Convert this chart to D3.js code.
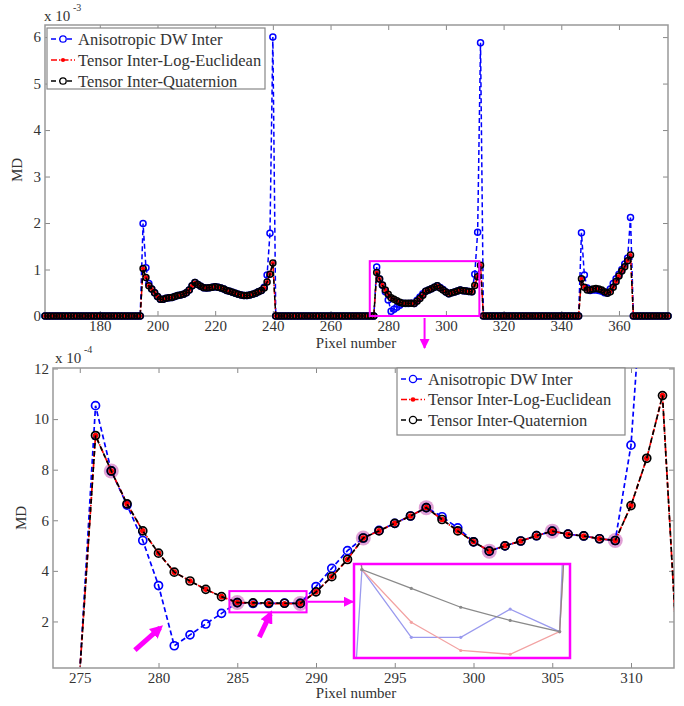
<!DOCTYPE html>
<html>
<head>
<meta charset="utf-8">
<script src="https://cdn.jsdelivr.net/npm/d3@7"></script>
<style>
body { margin: 0; background: #fff; }
</style>
</head>
<body>
<script>
// pixels covered by the overview plot
var firstPixel = 161, lastPixel = 377;

// non-zero stretches (first pixel of each), MD in units of 1e-4
var segStart = [195, 276, 347];

var quatA = [10.2, 8.3, 6.5, 5.8, 5.0, 4.2, 3.6, 3.6, 3.8, 3.9, 4.0, 4.2, 4.4, 4.5, 4.7, 5.0,
  5.6, 6.5, 7.2, 6.8, 6.4, 6.1, 6.0, 6.1, 6.2, 6.3, 6.2, 6.0, 5.8, 5.5, 5.3, 5.1, 4.9, 4.7,
  4.5, 4.4, 4.4, 4.5, 4.7, 4.9, 5.2, 5.5, 6.0, 7.3, 9.0, 11.4];
var quatB = [9.35, 7.95, 6.65, 5.58, 4.70, 3.95, 3.60, 3.27, 2.98, 2.747, 2.737, 2.727, 2.720,
  2.714, 3.17, 3.77, 4.45, 5.30, 5.58, 5.88, 6.17, 6.50, 6.03, 5.58, 5.15, 4.78, 4.99, 5.18,
  5.39, 5.57, 5.45, 5.38, 5.27, 5.20, 6.58, 8.45, 10.93];
var quatC = [8.0, 6.2, 5.6, 5.6, 5.8, 5.9, 5.8, 5.6, 5.2, 4.9, 5.2, 6.2, 7.4, 8.6, 9.7, 10.6,
  11.9, 13.1];

var logB = [9.35, 7.95, 6.65, 5.58, 4.70, 3.95, 3.60, 3.27, 2.98, 2.747, 2.719, 2.704, 2.702,
  2.714, 3.17, 3.77, 4.45, 5.30, 5.58, 5.88, 6.17, 6.50, 6.03, 5.58, 5.15, 4.78, 4.99, 5.18,
  5.39, 5.57, 5.45, 5.38, 5.27, 5.20, 6.58, 8.45, 10.93];

var anisoA = [19.9, 10.4, 7.0, 5.8, 5.0, 4.2, 3.6, 3.6, 3.8, 3.9, 4.0, 4.2, 4.4, 4.5, 4.7, 5.0,
  5.6, 6.5, 7.2, 6.8, 6.4, 6.1, 6.0, 6.1, 6.2, 6.3, 6.2, 6.0, 5.8, 5.5, 5.3, 5.1, 4.9, 4.7,
  4.5, 4.4, 4.4, 4.5, 4.7, 4.9, 5.2, 5.5, 6.2, 8.8, 17.8, 60.0];
var anisoB = [10.53, 7.95, 6.60, 5.20, 3.42, 1.04, 1.47, 1.90, 2.32, 2.747, 2.711, 2.711, 2.726,
  2.714, 3.38, 4.10, 4.80, 5.30, 5.60, 5.88, 6.17, 6.50, 6.14, 5.70, 5.15, 4.78, 4.99, 5.18,
  5.39, 5.57, 5.45, 5.38, 5.27, 5.20, 8.97, 18.0, 58.8];
var anisoC = [17.9, 8.8, 6.0, 5.5, 5.6, 5.6, 5.5, 5.3, 5.0, 5.0, 5.8, 7.0, 8.0, 9.0, 10.0, 11.2,
  12.5, 21.2];

var topXTicks = [180, 200, 220, 240, 260, 280, 300, 320, 340, 360];
var topYTicks = [0, 1, 2, 3, 4, 5, 6];
var zoomXTicks = [275, 280, 285, 290, 295, 300, 305, 310];
var zoomYTicks = [2, 4, 6, 8, 10, 12];

// points ringed in the zoomed plot
var highlightPixels = [277, 285, 289, 293, 297, 301, 305, 309];

var legendNames = ["Anisotropic DW Inter", "Tensor  Inter-Log-Euclidean", "Tensor  Inter-Quaternion"];

var serif = '"Liberation Serif", "Times New Roman", "DejaVu Serif", serif';

function fullSeries(segs) {
  var out = [];
  for (var p = firstPixel; p <= lastPixel; p++) out.push({px: p, v: 0});
  segs.forEach(function(seg, k) {
    seg.forEach(function(v, i) { out[segStart[k] + i - firstPixel].v = v; });
  });
  return out;
}

var aniso = fullSeries([anisoA, anisoB, anisoC]);
var logE = fullSeries([quatA, logB, quatC]);
var quat = fullSeries([quatA, quatB, quatC]);

var series = [
  {name: legendNames[0], data: aniso, color: "#0000ff", dash: "5,3", marker: "ring"},
  {name: legendNames[1], data: logE, color: "#ff0000", dash: "6,2,1.5,2", marker: "dot"},
  {name: legendNames[2], data: quat, color: "#000000", dash: "5,3", marker: "ring"}
];

var magenta = "#ff00ff";

var svg = d3.select("body").append("svg").attr("width", 684).attr("height", 706)
  .style("font-family", serif);

function label(g, x, y, size, str) {
  return g.append("text").attr("x", x).attr("y", y).style("font-family", serif)
    .style("font-size", size + "px").attr("fill", "#333").text(str);
}

var defs = svg.append("defs");
defs.append("marker").attr("id", "headSmall").attr("viewBox", "0 0 10 10")
  .attr("refX", 9).attr("refY", 5).attr("markerWidth", 5).attr("markerHeight", 5)
  .attr("markerUnits", "strokeWidth").attr("orient", "auto")
  .append("path").attr("d", "M0,0L10,5L0,10Z").attr("fill", magenta);
defs.append("marker").attr("id", "headBig").attr("viewBox", "0 0 10 10")
  .attr("refX", 7).attr("refY", 5).attr("markerWidth", 2.6).attr("markerHeight", 2.6)
  .attr("markerUnits", "strokeWidth").attr("orient", "auto")
  .append("path").attr("d", "M0,0L10,5L0,10Z").attr("fill", magenta);

function frameAxes(g, x, y, xt, yt) {
  var r = x.range(), b = y.range();
  g.append("g").attr("transform", "translate(0," + b[0] + ")")
    .call(d3.axisBottom(x).tickValues(xt).tickSize(-5).tickPadding(4).tickFormat(d3.format("d")));
  g.append("g").attr("transform", "translate(0," + b[1] + ")")
    .call(d3.axisTop(x).tickValues(xt).tickSize(-5).tickFormat(""));
  g.append("g").attr("transform", "translate(" + r[0] + ",0)")
    .call(d3.axisLeft(y).tickValues(yt).tickSize(-5).tickPadding(4).tickFormat(d3.format("d")));
  g.append("g").attr("transform", "translate(" + r[1] + ",0)")
    .call(d3.axisRight(y).tickValues(yt).tickSize(-5).tickFormat(""));
  g.selectAll(".domain").remove();
  g.selectAll(".tick line").attr("stroke", "#888");
  g.selectAll(".tick text").style("font-size", "15px").style("font-family", serif).attr("fill", "#333");
  g.append("rect").attr("x", r[0]).attr("y", b[1]).attr("width", r[1] - r[0])
    .attr("height", b[0] - b[1]).attr("fill", "none").attr("stroke", "#999").attr("stroke-width", 1.5);
}

function drawSeries(g, x, y, s, scale, rad, lw) {
  var line = d3.line().x(function(d) { return x(d.px); }).y(function(d) { return y(d.v * scale); });
  g.append("path").datum(s.data).attr("d", line).attr("fill", "none")
    .attr("stroke", s.color).attr("stroke-width", lw).attr("stroke-dasharray", s.dash);
  var pts = g.selectAll(null).data(s.data).enter().append("circle")
    .attr("cx", function(d) { return x(d.px); }).attr("cy", function(d) { return y(d.v * scale); });
  if (s.marker === "dot") pts.attr("r", rad * 0.7).attr("fill", s.color);
  else pts.attr("r", rad).attr("fill", "none").attr("stroke", s.color).attr("stroke-width", lw);
}

function legend(g, x0, y0, w, h, rowGap, rad) {
  g.append("rect").attr("x", x0).attr("y", y0).attr("width", w).attr("height", h)
    .attr("fill", "#fff").attr("stroke", "#888").attr("stroke-width", 1.2);
  series.forEach(function(s, i) {
    var cy = y0 + 11 + i * rowGap;
    g.append("line").attr("x1", x0 + 4).attr("x2", x0 + 28).attr("y1", cy).attr("y2", cy)
      .attr("stroke", s.color).attr("stroke-width", 1.4).attr("stroke-dasharray", s.dash);
    var m = g.append("circle").attr("cx", x0 + 16).attr("cy", cy);
    if (s.marker === "dot") m.attr("r", rad * 0.65).attr("fill", s.color);
    else m.attr("r", rad).attr("fill", "#fff").attr("stroke", s.color).attr("stroke-width", 1.3);
    label(g, x0 + 31, cy, 16.5, s.name).attr("dy", "0.35em");
  });
}

// ---------- overview plot ----------
var x1 = d3.scaleLinear().domain([firstPixel, lastPixel]).range([45, 668]);
var y1 = d3.scaleLinear().domain([0, 6.26]).range([316, 25]);
var g1 = svg.append("g");
frameAxes(g1, x1, y1, topXTicks, topYTicks);
series.forEach(function(s) { drawSeries(g1, x1, y1, s, 0.1, 3, 1.5); });

// box marking the zoomed region
var zoomBox = {x0: 273.6, x1: 311.6, y0: 0, y1: 1.18};
g1.append("rect").attr("x", x1(zoomBox.x0)).attr("y", y1(zoomBox.y1))
  .attr("width", x1(zoomBox.x1) - x1(zoomBox.x0)).attr("height", y1(zoomBox.y0) - y1(zoomBox.y1))
  .attr("fill", "none").attr("stroke", magenta).attr("stroke-width", 2);
var midX = x1((zoomBox.x0 + zoomBox.x1) / 2);
g1.append("line").attr("x1", midX).attr("x2", midX).attr("y1", 318).attr("y2", 348)
  .attr("stroke", magenta).attr("stroke-width", 2).attr("marker-end", "url(#headSmall)");

legend(g1, 47, 28, 218, 61, 21, 3.2);

label(g1, 44, 21, 15, "x 10");
label(g1, 73, 11, 10, "-3");
label(g1, 0, 0, 15, "MD").attr("transform", "translate(22,170) rotate(-90)").attr("text-anchor", "middle");
label(g1, 356, 348, 15, "Pixel number").attr("text-anchor", "middle");

// ---------- zoomed plot ----------
var x2 = d3.scaleLinear().domain([273.3, 312.73]).range([53, 674]);
var y2 = d3.scaleLinear().domain([0.16, 12.02]).range([668, 368]);
var g2 = svg.append("g");
frameAxes(g2, x2, y2, zoomXTicks, zoomYTicks);

defs.append("clipPath").attr("id", "clipZoom").append("rect")
  .attr("x", 53).attr("y", 368).attr("width", 621).attr("height", 298.5);
var plot2 = g2.append("g").attr("clip-path", "url(#clipZoom)");

plot2.selectAll(null).data(quat.filter(function(d) { return highlightPixels.indexOf(d.px) >= 0; }))
  .enter().append("circle")
  .attr("cx", function(d) { return x2(d.px); }).attr("cy", function(d) { return y2(d.v); })
  .attr("r", 7.5).attr("fill", "#d98acb").attr("opacity", 0.8);

series.forEach(function(s) { drawSeries(plot2, x2, y2, s, 1, 4, 1.7); });

// box around the flat stretch and its enlarged view
var flatBox = {x0: 284.5, x1: 289.4, y0: 2.36, y1: 3.2};
g2.append("rect").attr("x", x2(flatBox.x0)).attr("y", y2(flatBox.y1))
  .attr("width", x2(flatBox.x1) - x2(flatBox.x0)).attr("height", y2(flatBox.y0) - y2(flatBox.y1))
  .attr("fill", "none").attr("stroke", magenta).attr("stroke-width", 2);

var insetBox = {left: 354, top: 564, right: 570, bottom: 658};
var flatMidY = y2((flatBox.y0 + flatBox.y1) / 2);
g2.append("line").attr("x1", x2(flatBox.x1) + 1).attr("x2", insetBox.left - 1)
  .attr("y1", flatMidY).attr("y2", flatMidY)
  .attr("stroke", magenta).attr("stroke-width", 2).attr("marker-end", "url(#headSmall)");

var xi = d3.scaleLinear().domain([284.84, 289.21]).range([insetBox.left, insetBox.right]);
var yi = d3.scaleLinear().domain([2.70, 2.75]).range([insetBox.bottom, insetBox.top]);
g2.append("rect").attr("x", insetBox.left).attr("y", insetBox.top)
  .attr("width", insetBox.right - insetBox.left).attr("height", insetBox.bottom - insetBox.top)
  .attr("fill", "#fff").attr("stroke", "none");
defs.append("clipPath").attr("id", "clipInset").append("rect")
  .attr("x", insetBox.left).attr("y", insetBox.top)
  .attr("width", insetBox.right - insetBox.left).attr("height", insetBox.bottom - insetBox.top);
var inset = g2.append("g").attr("clip-path", "url(#clipInset)");
var insetLook = [{s: aniso, c: "#9a9aee"}, {s: logE, c: "#f2a2a2"}, {s: quat, c: "#8a8a8a"}];
insetLook.forEach(function(o) {
  var d = o.s.filter(function(p) { return p.px >= 284 && p.px <= 290; });
  inset.append("path").datum(d)
    .attr("d", d3.line().x(function(p) { return xi(p.px); }).y(function(p) { return yi(p.v); }))
    .attr("fill", "none").attr("stroke", o.c).attr("stroke-width", 1.3);
  inset.selectAll(null).data(d).enter().append("circle")
    .attr("cx", function(p) { return xi(p.px); }).attr("cy", function(p) { return yi(p.v); })
    .attr("r", 1.6).attr("fill", o.c);
});
g2.append("rect").attr("x", insetBox.left).attr("y", insetBox.top)
  .attr("width", insetBox.right - insetBox.left).attr("height", insetBox.bottom - insetBox.top)
  .attr("fill", "none").attr("stroke", magenta).attr("stroke-width", 2.5);

// thick pointer arrows (tail -> head, data coords)
var pointers = [
  {x0: 278.5, y0: 0.87, x1: 280.1, y1: 1.75},
  {x0: 286.4, y0: 1.38, x1: 287.1, y1: 2.3}
];
pointers.forEach(function(a) {
  g2.append("line").attr("x1", x2(a.x0)).attr("y1", y2(a.y0)).attr("x2", x2(a.x1)).attr("y2", y2(a.y1))
    .attr("stroke", magenta).attr("stroke-width", 5).attr("marker-end", "url(#headBig)");
});

legend(g2, 397, 368, 228, 67, 20.5, 3.6);

label(g2, 55, 363, 15, "x 10");
label(g2, 84, 353, 10, "-4");
label(g2, 0, 0, 15, "MD").attr("transform", "translate(26,518) rotate(-90)").attr("text-anchor", "middle");
label(g2, 356, 698, 15, "Pixel number").attr("text-anchor", "middle");
</script>
</body>
</html>
